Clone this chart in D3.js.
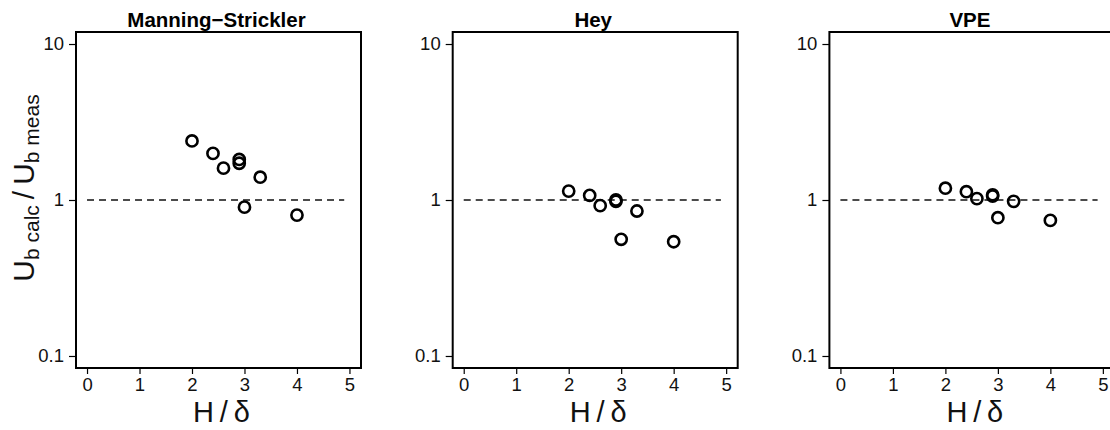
<html>

<head>
    <meta charset="utf-8" />
    <title>Ub calc / Ub meas</title>
    <script src="https://d3js.org/d3.v7.min.js"></script>
    <style>
        body {
            margin: 0;
            font-family: "Liberation Sans", Arial, Helvetica, sans-serif;
        }
    </style>
</head>

<body>
    <svg id="chart" width="1110" height="430"></svg>
    <script>
        // panel titles
        const methods = ["Manning\u2212Strickler", "Hey", "VPE"]

        // H / delta (same runs in every panel)
        const hDelta = [2.0, 2.4, 2.6, 2.9, 2.9, 3.3, 3.0, 4.0]

        // Ub calc / Ub meas for each method
        const ratioMS = [2.39, 1.99, 1.60, 1.82, 1.72, 1.40, 0.90, 0.80]
        const ratioHey = [1.14, 1.07, 0.92, 1.00, 0.98, 0.85, 0.56, 0.54]
        const ratioVPE = [1.19, 1.13, 1.02, 1.06, 1.08, 0.98, 0.77, 0.74]

        const xTicks = [0, 1, 2, 3, 4, 5]
        const yTicks = [0.1, 1, 10]

        const series = [ratioMS, ratioHey, ratioVPE]

        const svg = d3.select("svg#chart")
        const panel = {
            left: 76,
            top: 32,
            width: 285,
            height: 336,
            step: 376.7
        }

        const x = d3.scaleLinear().domain([-0.21, 5.22]).range([0, panel.width])
        const y = d3.scaleLog().domain([Math.pow(10, -1.077), Math.pow(10, 1.077)]).range([panel.height, 0])

        const styleAxis = a => {
            a.attr("font-size", null)
            a.select(".domain").remove()
            a.selectAll(".tick line").attr("stroke-width", 1.2)
            a.selectAll(".tick text")
                .style("font-size", "18.5px")
                .style("font-family", "'Liberation Sans', Arial, sans-serif")
                .attr("fill", "#111")
        }

        methods.forEach((name, i) => {
            const g = svg.append("g")
                .attr("transform", `translate(${panel.left + i * panel.step}, ${panel.top})`)

            g.append("text")
                .attr("x", panel.width / 2 - 2)
                .attr("y", -5)
                .attr("text-anchor", "middle")
                .attr("font-weight", "bold")
                .attr("font-size", 20.5)
                .text(name)

            const xAxis = d3.axisBottom(x).tickValues(xTicks).tickSize(6).tickPadding(4).tickFormat(d3.format("d"))
            g.append("g").attr("class", "x axis")
                .attr("transform", `translate(0, ${panel.height})`)
                .call(xAxis)
                .call(styleAxis)

            const yAxis = d3.axisLeft(y).tickValues(yTicks).tickSize(7).tickPadding(5).tickFormat(d => d)
            g.append("g").attr("class", "y axis")
                .call(yAxis)
                .call(styleAxis)

            // reference line at ratio = 1
            g.append("line")
                .attr("x1", x(0)).attr("x2", x(4.9))
                .attr("y1", y(1)).attr("y2", y(1))
                .attr("stroke", "#111")
                .attr("stroke-width", 1.6)
                .attr("stroke-dasharray", "7,5")

            g.selectAll("circle.pt").data(series[i].map((v, j) => [hDelta[j], v]))
                .join("circle").attr("class", "pt")
                .attr("cx", d => x(d[0]))
                .attr("cy", d => y(d[1]))
                .attr("r", 5.6)
                .attr("fill", "none")
                .attr("stroke", "#000")
                .attr("stroke-width", 2.6)

            g.append("rect")
                .attr("width", panel.width)
                .attr("height", panel.height)
                .attr("fill", "none")
                .attr("stroke", "#000")
                .attr("stroke-width", 2)

            g.append("text")
                .attr("x", panel.width / 2 + 3)
                .attr("y", 390)
                .attr("text-anchor", "middle")
                .attr("font-size", 29)
                .attr("fill", "#111")
                .text("H\u2009/\u2009\u03b4")
        })

        // y label, only on first panel
        const yl = svg.append("text")
            .attr("transform", `translate(34, 188) rotate(-90)`)
            .attr("text-anchor", "middle")
            .attr("font-size", 30)
            .attr("fill", "#111")
        yl.append("tspan").text("U")
        yl.append("tspan").attr("font-size", 21).attr("dy", 5).text("b calc")
        yl.append("tspan").attr("dy", -5).text("\u2009/\u2009U")
        yl.append("tspan").attr("font-size", 21).attr("dy", 5).text("b meas")
    </script>
</body>

</html>
